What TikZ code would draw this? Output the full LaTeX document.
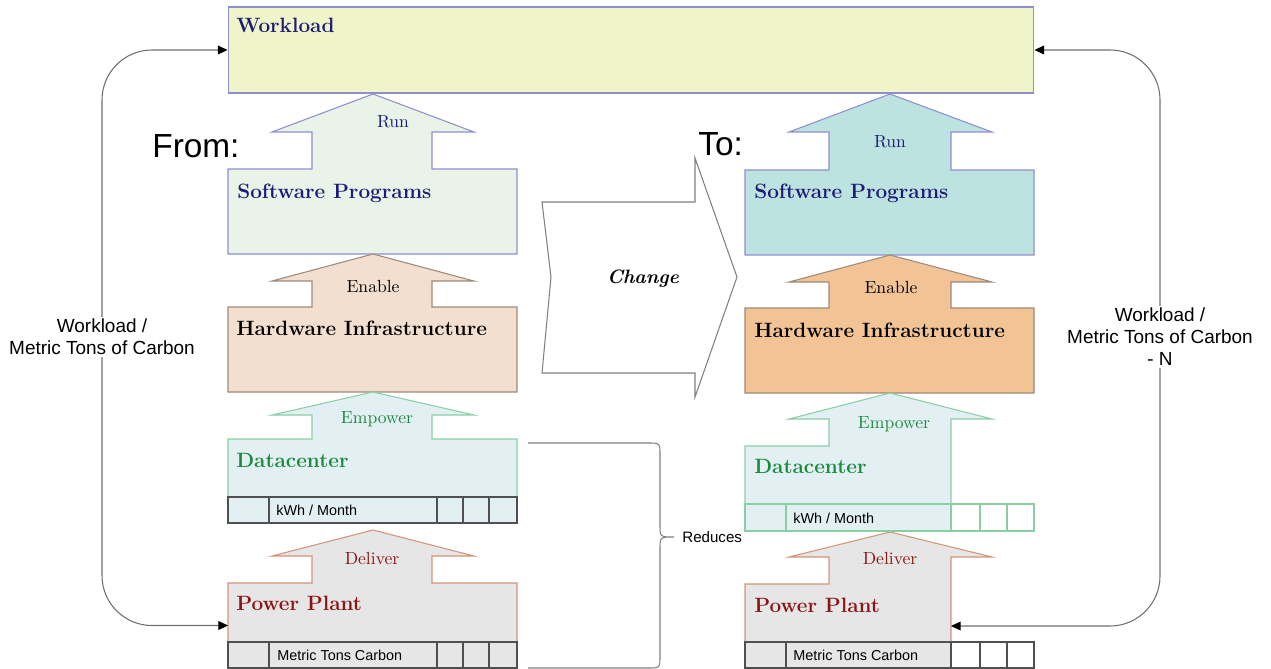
\documentclass[tikz,border=0pt]{standalone}
\usepackage{fontspec}
\setsansfont{Liberation Sans}
\usetikzlibrary{arrows.meta}

\definecolor{navy}{HTML}{1E1A78}
\definecolor{lav}{HTML}{8F8FD0}
\definecolor{wlfill}{HTML}{EFF5C8}
\definecolor{swleft}{HTML}{E9F3E7}
\definecolor{swright}{HTML}{BCE3DF}
\definecolor{hwleft}{HTML}{F3DFCF}
\definecolor{hwright}{HTML}{F2C495}
\definecolor{hwline}{HTML}{9C8A7C}
\definecolor{dcfill}{HTML}{E2F0F4}
\definecolor{dcline}{HTML}{8ACFA4}
\definecolor{dctext}{HTML}{1B8A3A}
\definecolor{ppfill}{HTML}{E6E6E6}
\definecolor{ppline}{HTML}{D4937A}
\definecolor{pptext}{HTML}{8B1515}
\definecolor{cellgrey}{HTML}{505050}
\definecolor{loopgrey}{HTML}{6E6E6E}

\begin{document}
\begin{tikzpicture}[x=0.02cm,y=-0.02cm]
\tikzstyle{tier}=[font=\fontsize{11.8}{13}\selectfont\bfseries,anchor=base west,inner sep=0pt]
\tikzstyle{verb}=[font=\fontsize{10}{11}\selectfont,anchor=base,inner sep=0pt]
\tikzstyle{cell}=[font=\sffamily\fontsize{8.2}{10}\selectfont,anchor=base west,inner sep=0pt]
\tikzstyle{ratio}=[font=\sffamily\fontsize{10.8}{12.5}\selectfont,align=center,fill=white,inner sep=1pt]
\tikzstyle{house}=[line width=0.6pt]
\tikzstyle{cellline}=[draw=cellgrey,line width=0.6pt]
\tikzstyle{loop}=[draw=loopgrey,line width=0.6pt,rounded corners=1cm,-{Triangle[length=5.5pt,width=5pt,black]}]
\tikzstyle{tag}=[inner sep=0pt,outer sep=0pt]

\useasboundingbox (0,0) rectangle (1271,669);

%workload box.
\node[draw=lav,fill=wlfill,line width=0.6pt,minimum width=16.12cm,minimum height=1.72cm,inner sep=0pt] (workload) at (631,50) {};
\node[tier,text=navy] (workload_lbl) at (236,33) {Workload};

%from stack.
\filldraw[house,draw=lav,fill=swleft] (228,169) -- (312,169) -- (312,132) -- (272,132) -- (373,94) -- (474,132) -- (432,132) -- (432,169) -- (517,169) -- (517,254) -- (228,254) -- cycle;
\filldraw[house,draw=hwline,fill=hwleft] (228,307) -- (312,307) -- (312,281) -- (272,281) -- (373,254) -- (474,281) -- (432,281) -- (432,307) -- (517,307) -- (517,392) -- (228,392) -- cycle;
\filldraw[house,draw=dcline,fill=dcfill] (228,439) -- (312,439) -- (312,415) -- (272,415) -- (373,392) -- (474,415) -- (432,415) -- (432,439) -- (517,439) -- (517,523) -- (228,523) -- cycle;
\filldraw[house,draw=ppline,fill=ppfill] (228,583) -- (312,583) -- (312,556) -- (272,556) -- (373,530) -- (474,556) -- (432,556) -- (432,583) -- (517,583) -- (517,668) -- (228,668) -- cycle;

\draw[cellline] (228,497) rectangle (517,523);
\foreach \x in {269,437,463,489} \draw[cellline] (\x,497) -- (\x,523);
\draw[cellline] (228,642) rectangle (517,668);
\foreach \x in {269,437,463,489} \draw[cellline] (\x,642) -- (\x,668);

\node[font=\sffamily\fontsize{19}{22}\selectfont,anchor=base west,inner sep=0pt] (from_lbl) at (152,157) {From:};
\node[verb,text=navy] (run_left) at (393,128) {Run};
\node[tier,text=navy] (sw_left) at (237,198) {Software Programs};
\node[verb] (enable_left) at (373,292) {Enable};
\node[tier] (hw_left) at (236,335) {Hardware Infrastructure};
\node[verb,text=dctext] (empower_left) at (377,423) {Empower};
\node[tier,text=dctext] (dc_left) at (236,467) {Datacenter};
\node[cell] (kwh_left) at (276,515) {kWh / Month};
\node[verb,text=pptext] (deliver_left) at (372,564) {Deliver};
\node[tier,text=pptext] (pp_left_lbl) at (236,610) {Power Plant};
\node[cell] (carbon_left) at (277,660) {Metric Tons Carbon};
\node[tag,minimum width=5.78cm,minimum height=1.7cm] (pp_left) at (372.5,625.5) {};

%change arrow.
\filldraw[draw=gray,fill=white,line width=0.6pt] (542,202) -- (695,202) -- (695,158) -- (737,277) -- (695,397) -- (695,373) -- (542,373) -- (551,277) -- cycle;
\node[font=\fontsize{11}{13}\selectfont\bfseries\itshape,anchor=base,inner sep=0pt] (change) at (643,283) {Change};

%to stack.
\filldraw[house,draw=lav,fill=swright] (745,170) -- (829,170) -- (829,132) -- (789,132) -- (890,94) -- (992,132) -- (951,132) -- (951,170) -- (1034,170) -- (1034,255) -- (745,255) -- cycle;
\filldraw[house,draw=hwline,fill=hwright] (745,308) -- (829,308) -- (829,282) -- (789,282) -- (890,255) -- (992,282) -- (951,282) -- (951,308) -- (1034,308) -- (1034,393) -- (745,393) -- cycle;
\filldraw[house,draw=dcline,fill=dcfill] (745,446) -- (829,446) -- (829,419) -- (789,419) -- (890,393) -- (992,419) -- (951,419) -- (951,531) -- (745,531) -- cycle;
\filldraw[house,draw=ppline,fill=ppfill] (745,584) -- (829,584) -- (829,557) -- (789,557) -- (890,532) -- (992,557) -- (951,557) -- (951,668) -- (745,668) -- cycle;

\draw[draw=dcline,line width=0.6pt,fill=white] (951,504) rectangle (1034,531);
\draw[draw=dcline,line width=0.6pt] (745,504) rectangle (1034,531);
\foreach \x in {786,980,1007} \draw[draw=dcline,line width=0.6pt] (\x,504) -- (\x,531);
\draw[cellline,fill=white] (951,642) rectangle (1034,668);
\draw[cellline] (745,642) rectangle (1034,668);
\foreach \x in {786,951,980,1007} \draw[cellline] (\x,642) -- (\x,668);

\node[font=\sffamily\fontsize{19}{22}\selectfont,anchor=base west,inner sep=0pt] (to_lbl) at (698,155) {To:};
\node[verb,text=navy] (run_right) at (890,148) {Run};
\node[tier,text=navy] (sw_right) at (754,198) {Software Programs};
\node[verb] (enable_right) at (891,293) {Enable};
\node[tier] (hw_right) at (754,337) {Hardware Infrastructure};
\node[verb,text=dctext] (empower_right) at (894,428) {Empower};
\node[tier,text=dctext] (dc_right) at (754,473) {Datacenter};
\node[cell] (kwh_right) at (793,523) {kWh / Month};
\node[verb,text=pptext] (deliver_right) at (890,564) {Deliver};
\node[tier,text=pptext] (pp_right_lbl) at (754,612) {Power Plant};
\node[cell] (carbon_right) at (793,660) {Metric Tons Carbon};
\node[tag,minimum width=4.12cm,minimum height=1.68cm] (pp_right) at (848,626) {};

%reduces brace.
\coordinate (brace_top) at (528,443);
\coordinate (brace_bottom) at (528,668);
\node[font=\sffamily\fontsize{8.6}{10}\selectfont,anchor=west,inner sep=0pt] (reduces) at (682,537) {Reduces};
\draw[draw=gray,line width=0.6pt] (brace_top) -- (648,443) .. controls (660,443) .. (660,455) -- (660,525) .. controls (660,537) .. (674,537) .. controls (660,537) .. (660,549) -- (660,656) .. controls (660,668) .. (648,668) -- (brace_bottom);

%ratio loops.
\node[ratio] (ratio_left) at (102,337) {Workload /\\Metric Tons of Carbon};
\draw[loop] (ratio_left) |- (workload.west);
\draw[loop] (ratio_left) |- (pp_left.west);
\node[ratio] (ratio_right) at (1160,337) {Workload /\\Metric Tons of Carbon\\- N};
\draw[loop] (ratio_right) |- (workload.east);
\draw[loop] (ratio_right) |- (pp_right.east);

\end{tikzpicture}
\end{document}
